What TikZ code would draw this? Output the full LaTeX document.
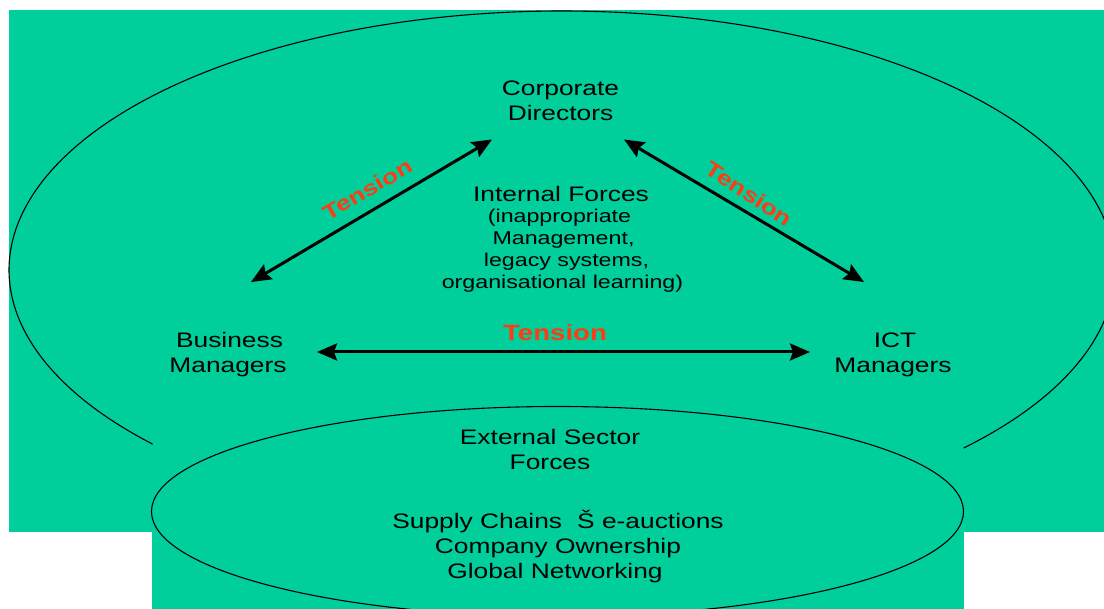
\documentclass[tikz,border=0pt]{standalone}
\usepackage{fontspec}
\setmainfont[FakeStretch=1.255]{Liberation Sans}
\usetikzlibrary{arrows.meta}
\definecolor{bgreen}{HTML}{00CF9C}
\definecolor{tensionred}{HTML}{FF3B14}
\tikzset{
  label text/.style={align=center,inner sep=0pt,font=\fontsize{21}{25}\selectfont},
  small text/.style={align=center,inner sep=0pt,font=\fontsize{18.5}{21.8}\selectfont},
  tensionlabel/.style={inner sep=0pt,text=tensionred,font=\fontsize{22}{24}\selectfont\bfseries},
  tensiondiag/.style={tensionlabel,font=\fontsize{21}{24}\selectfont\bfseries},
  tensionarrow/.style={line width=3pt,{Stealth[length=20pt,width=17pt,inset=3pt]}-{Stealth[length=20pt,width=17pt,inset=3pt]}},
  outline/.style={line width=1.1pt,line cap=round}
}
\begin{document}
\begin{tikzpicture}[x=1pt,y=-1pt]
\useasboundingbox (0,0) rectangle (1104,609);
\clip (0,0) rectangle (1104,609);
% green backgrounds
\fill[bgreen] (9,10) rectangle (1104,532);
\fill[bgreen] (152,532) rectangle (964,609);
% outer ellipse, open at the bottom
\draw[outline,smooth] plot[domain=137.8:403.4,samples=240] ({562+553*cos(\x)},{270+259*sin(\x)});
% inner ellipse
\draw[outline] (557.5,511.5) ellipse[x radius=406,y radius=105];
% nodes
\node[label text] (corp) at (560.5,101) {Corporate\\Directors};
\node[label text] (biz) at (228,355) {\hspace*{3pt}Business\\Managers};
\node[label text] (ict) at (893,355) {\hspace*{4pt}ICT\\Managers};
\node[label text] (ext) at (550,449.5) {External Sector\\Forces};
\node[label text] (sup) at (558,547) {Supply Chains\hspace{15pt}Š e-auctions\\Company Ownership\\\hspace*{-6pt}Global Networking};
\node[label text] (int) at (561,193.5) {Internal Forces};
\node[small text,anchor=north] (intd) at (562.5,209) {\hspace*{-6pt}(inappropriate\\\hspace*{2pt}Management,\\\hspace*{8pt}legacy systems,\\organisational learning)};
% connectors
\draw[tensionarrow] ([shift={(23,-73)}]biz.center) -- ([shift={(-68.5,38.5)}]corp.center);
\draw[tensionarrow] ([shift={(63.5,38.5)}]corp.center) -- ([shift={(-29,-73)}]ict.center);
\draw[tensionarrow] ([shift={(89,-3)}]biz.center) -- ([shift={(-83,-3)}]ict.center);
% connector labels
\node[tensiondiag,rotate=30.5] (t1) at (367.5,189.5) {Tension};
\node[tensiondiag,rotate=-33] (t2) at (749,193.5) {Tension};
\node[tensionlabel] (t3) at (555,333) {Tension};
\end{tikzpicture}
\end{document}
